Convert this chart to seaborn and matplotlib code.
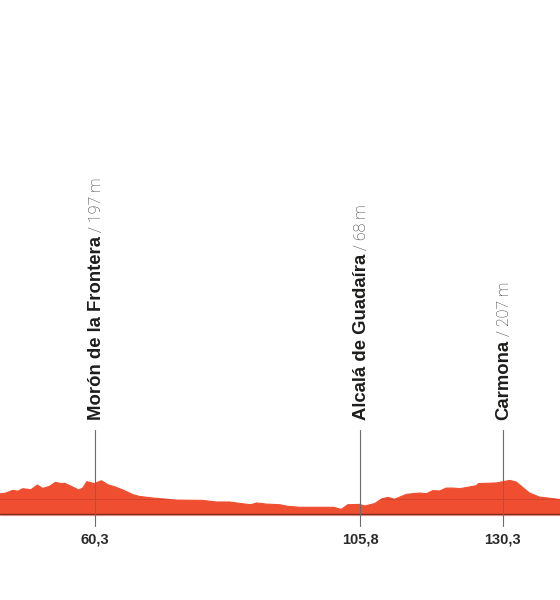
# -*- coding: utf-8 -*-
import matplotlib
matplotlib.use('Agg')
import numpy as np
import pandas as pd
import matplotlib.pyplot as plt
import seaborn as sns

#%% profile
km = [43.9,45.0,46.2,47.0,47.9,49.3,50.4,51.3,52.5,53.5,54.5,55.1,56.2,57.5,58.2,58.9,60.2,61.4,
      62.5,63.6,65.1,66.8,67.9,70.2,74.2,78.8,81.1,83.4,85.4,87.1,88.0,89.7,92.0,93.4,95.4,101.2,
      102.6,103.7,105.7,106.6,108.3,109.5,110.6,111.7,113.8,116.0,117.2,118.3,119.5,120.6,121.8,
      122.9,125.8,126.1,129.2,131.5,132.6,134.9,136.6,140.3]
altitude = [125,131,148,142,158,152,181,160,173,198,190,192,173,150,162,202,190,208,
            183,171,150,121,110,100,87,85,75,75,65,58,69,62,58,48,42,42,
            29,58,60,50,65,94,104,92,123,131,127,146,144,162,162,
            158,177,190,194,210,200,131,106,90]

towns = ['Morón de la Frontera','Alcalá de Guadaíra','Carmona']
town_km = [60.3,105.8,130.3]
town_alt = [197,68,207]
km_labels = ['60,3','105,8','130,3']

profile = pd.DataFrame({'km':km,'altitude':altitude})

#%%
sns.set_theme(style='white')
red = '#f04e30'

fig = plt.figure(figsize=(5.6,6.0),dpi=100)
ax = fig.add_axes([0,0,1,1])
ax.set_xlim(43.98,140.13)
ax.set_ylim(-537.5,3212.5)
ax.axis('off')

poly = ax.fill_between(profile['km'],profile['altitude'],0,color=red,lw=0,zorder=2)
sns.lineplot(data=profile,x='km',y='altitude',color=red,lw=0.8,ax=ax,zorder=2)

ax.axhline(0,color='#7a2a1c',lw=1.0,zorder=3)
ax.axhline(-8,color='#f6a9a0',lw=1.0,zorder=1)
# faint contour only inside the profile
inner = ax.axhline(94,color='#b83a24',lw=0.5,alpha=0.7,zorder=3)
inner.set_clip_path(poly.get_paths()[0],transform=ax.transData)

renderer = fig.canvas.get_renderer()
for name,k,alt,lab in zip(towns,town_km,town_alt,km_labels):
    ax.plot([k,k],[-75,525],color='#6b6b6b',lw=0.8,zorder=4)
    t = ax.text(k+0.25,585,name,rotation=90,ha='center',va='bottom',fontsize=13.3,
                fontweight='bold',family='Liberation Sans',color='#1d1d1b')
    bb = t.get_window_extent(renderer)
    ytop = ax.transData.inverted().transform((0,bb.y1))[1]
    ax.text(k+0.25,ytop,' / %d m' % alt,rotation=90,ha='center',va='bottom',fontsize=11.5,
            fontweight='light',family='Roboto',color='#303030')
    ax.text(k,-160,lab,ha='center',va='center',fontsize=10.5,family='Liberation Sans',
            fontweight='bold',color='#2b2b2b')

fig.savefig('out.png',dpi=100)
